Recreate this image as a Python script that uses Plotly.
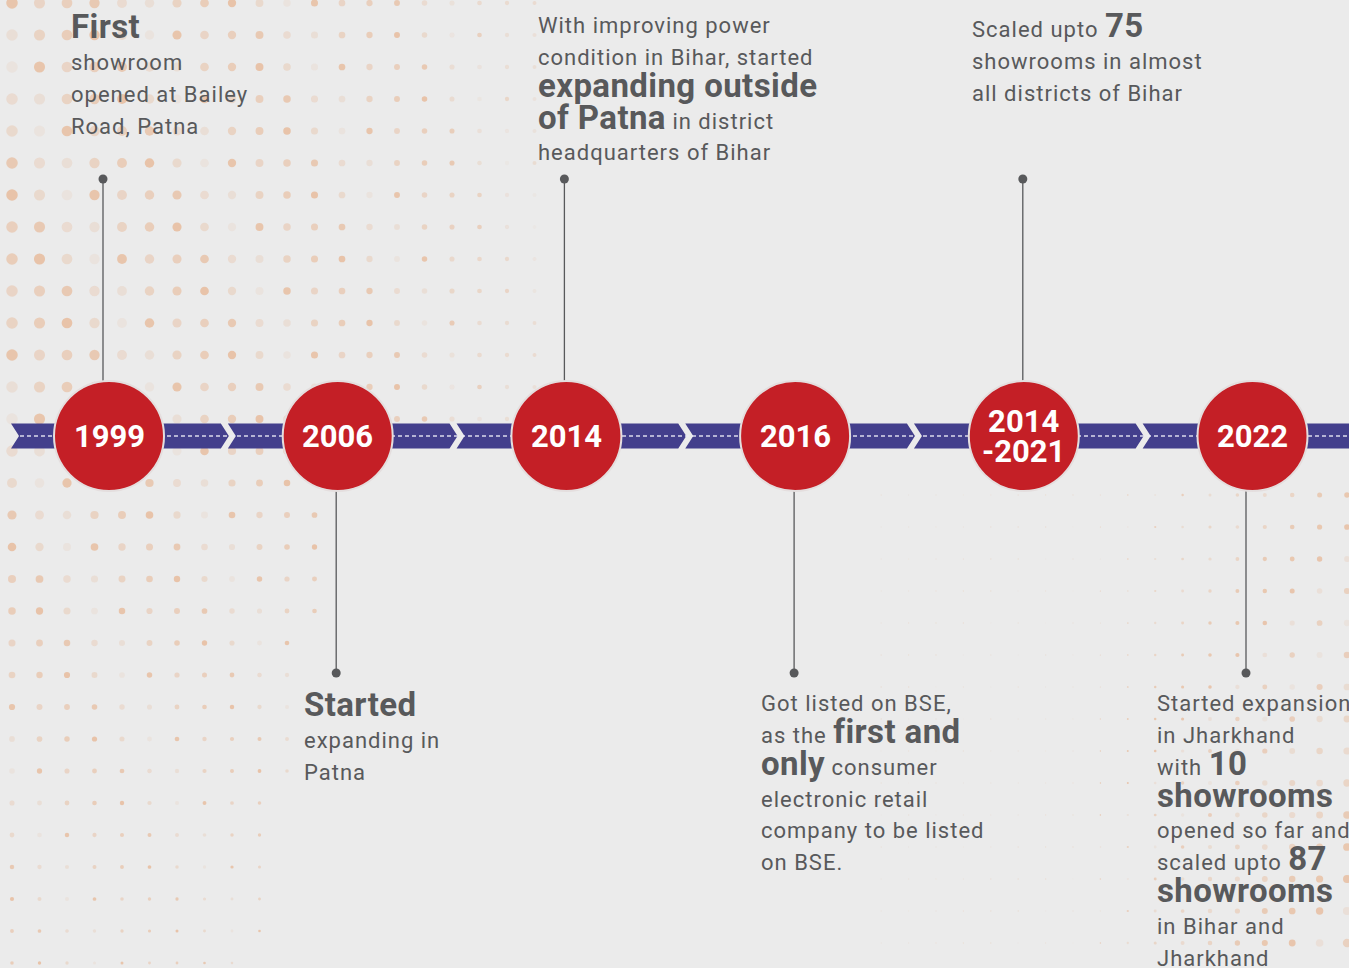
import re
import plotly.graph_objects as go

# ---- content -------------------------------------------------------------
YEARS = ["1999", "2006", "2014", "2016", "2014\n-2021", "2022"]
SIDES = ["up", "down", "up", "down", "up", "down"]
DESCRIPTIONS = [
    "**First**\nshowroom\nopened at Bailey\nRoad, Patna",
    "**Started**\nexpanding in\nPatna",
    "With improving power\ncondition in Bihar, started\n**expanding outside**\n**of Patna** in district\nheadquarters of Bihar",
    "Got listed on BSE,\nas the **first and**\n**only** consumer\nelectronic retail\ncompany to be listed\non BSE.",
    "Scaled upto **75**\nshowrooms in almost\nall districts of Bihar",
    "Started expansion\nin Jharkhand\nwith **10**\n**showrooms**\nopened so far and\nscaled upto **87**\n**showrooms**\nin Bihar and\nJharkhand",
]
TEXT_DX = [-40.5, -36, -30.5, -36.5, -53.5, -98]  # text left edge vs circle centre (px)
TEXT_BASELINE = [37, 715, 32, 710, 36, 710]       # baseline of first text line (px from top)
STEM_DX = [-6, -1.5, -2, -1, -1, -6.5]

# ---- look ----------------------------------------------------------------
W, H = 1349, 968
X0, STEP = 109, 228.7
BAND_Y, BAND_H = 436, 25
R = 55
STEM_UP, STEM_DOWN = 257, 237

RED = "#C41F26"
BAND = "#433F8C"
TEXT = "#58595B"
BG = "#EBEBEB"
FONT = "Roboto"
BODY_PX, BOLD_PX, LINE_BASE = 22, 33, 24.5

cx = [X0 + STEP * i for i in range(len(YEARS))]
top, bot = BAND_Y - BAND_H / 2, BAND_Y + BAND_H / 2

fig = go.Figure()

# background halftone dots (decoration only)
ALPHA = [0.95, 0.45, 0.75, 0.3, 0.85, 0.55, 0.2, 1.0, 0.6, 0.4, 0.7]
dx, dy, ds, dc = [], [], [], []
for j in range(31):
    y = 3 + 32 * j
    if y < 450:
        fall, kmax = 1.0, 19.5
    else:
        fall = 1 - 0.7 * min(1, (y - 450) / 520) ** 0.6
        kmax = 12 - (y - 450) / 170
    for k in range(21):
        x = 12 + 27.5 * k
        if k > kmax:
            continue
        s = (11.5 - k * 0.4) * fall
        if s < 1.2:
            continue
        a = ALPHA[(k * 5 + j * 3) % len(ALPHA)] * (1 if k < 16 else 1 - (k - 15) * 0.15)
        dx.append(x); dy.append(y); ds.append(s)
        dc.append(f"rgba(230,168,124,{0.85 * a:.2f})")
for j in range(15):
    y = 495 + 32 * j
    for k in range(22):
        x = 1347 - 27.4 * k
        s = (5.5 + (y - 495) / 470 * 3) * (1 - k / 11)
        if s < 1.0:
            s = 1.3 if k < 18 else 0
        if s <= 0:
            continue
        a = ALPHA[(k * 4 + j * 7) % len(ALPHA)] * (1 if k < 10 else 0.35)
        dx.append(x); dy.append(y); ds.append(s)
        dc.append(f"rgba(230,168,124,{0.8 * a:.2f})")
fig.add_trace(go.Scatter(x=dx, y=dy, mode="markers",
                         marker=dict(size=ds, color=dc, line=dict(width=0)),
                         hoverinfo="skip"))

# chevron band
bx, by = [], []
def poly(pts):
    for p in pts + [pts[0]]:
        bx.append(p[0]); by.append(p[1])
    bx.append(None); by.append(None)

poly([(11, top), (cx[0], top), (cx[0], bot), (11, bot), (19, BAND_Y)])
for i in range(len(cx) - 1):
    m = cx[i] + STEP / 2
    poly([(cx[i], top), (m - 2.5, top), (m + 5.5, BAND_Y), (m - 2.5, bot), (cx[i], bot)])
    poly([(m + 4.5, top), (cx[i + 1], top), (cx[i + 1], bot), (m + 4.5, bot), (m + 12.5, BAND_Y)])
poly([(cx[-1], top), (W + 5, top), (W + 5, bot), (cx[-1], bot)])
fig.add_trace(go.Scatter(x=bx, y=by, mode="lines", fill="toself", fillcolor=BAND,
                         line=dict(width=0, color=BAND), hoverinfo="skip"))
fig.add_trace(go.Scatter(x=[20, W], y=[BAND_Y, BAND_Y], mode="lines",
                         line=dict(color="rgba(236,236,246,0.9)", width=1.5, dash="4px,3px"),
                         hoverinfo="skip"))

# stems
sx, sy, ex, ey = [], [], [], []
for i, side in enumerate(SIDES):
    x = cx[i] + STEM_DX[i]
    end = BAND_Y - STEM_UP if side == "up" else BAND_Y + STEM_DOWN
    sx += [x, x, None]; sy += [BAND_Y, end, None]
    ex.append(x); ey.append(end)
fig.add_trace(go.Scatter(x=sx, y=sy, mode="lines", line=dict(color=TEXT, width=1.3),
                         hoverinfo="skip"))
fig.add_trace(go.Scatter(x=ex, y=ey, mode="markers", marker=dict(size=9, color=TEXT),
                         hoverinfo="skip"))

# year circles
fig.add_trace(go.Scatter(x=cx, y=[BAND_Y] * len(cx), mode="markers",
                         marker=dict(size=2 * R, color=RED, line=dict(color="#E4DEDE", width=2)),
                         hoverinfo="skip"))
for i, yr in enumerate(YEARS):
    txt = "<br>".join(f'<span style="font-size:31px;font-weight:bold">{ln}</span>'
                      for ln in yr.split("\n"))
    fig.add_annotation(x=cx[i], y=BAND_Y, text=txt, showarrow=False,
                       xanchor="center", yanchor="middle",
                       font=dict(family=FONT, size=23, color="white"))

# descriptions
def fmt(line):
    out = []
    for n, part in enumerate(re.split(r"\*\*", line)):
        if not part:
            continue
        if n % 2:
            out.append(f'<span style="font-size:{BOLD_PX}px;font-weight:bold;letter-spacing:0.4px">{part}</span>')
        else:
            out.append(f'<span style="font-size:{BODY_PX}px;letter-spacing:1px">{part}</span>')
    return "".join(out)

for i, desc in enumerate(DESCRIPTIONS):
    lines = desc.split("\n")
    asc = 0.928 * (BOLD_PX if "**" in lines[0] else BODY_PX)
    fig.add_annotation(x=cx[i] + TEXT_DX[i], y=TEXT_BASELINE[i] - asc - 1,
                       text="<br>".join(fmt(l) for l in lines), showarrow=False,
                       xanchor="left", yanchor="top", align="left",
                       font=dict(family=FONT, size=LINE_BASE, color=TEXT))

fig.update_layout(
    width=W, height=H, margin=dict(l=0, r=0, t=0, b=0),
    paper_bgcolor=BG, plot_bgcolor=BG, showlegend=False, hovermode=False,
    xaxis=dict(range=[0, W], visible=False, fixedrange=True),
    yaxis=dict(range=[H, 0], visible=False, fixedrange=True),
)

fig.write_html("out.html", config={"displayModeBar": False},
               post_script="document.body.style.margin='0';document.body.style.overflow='hidden';")
